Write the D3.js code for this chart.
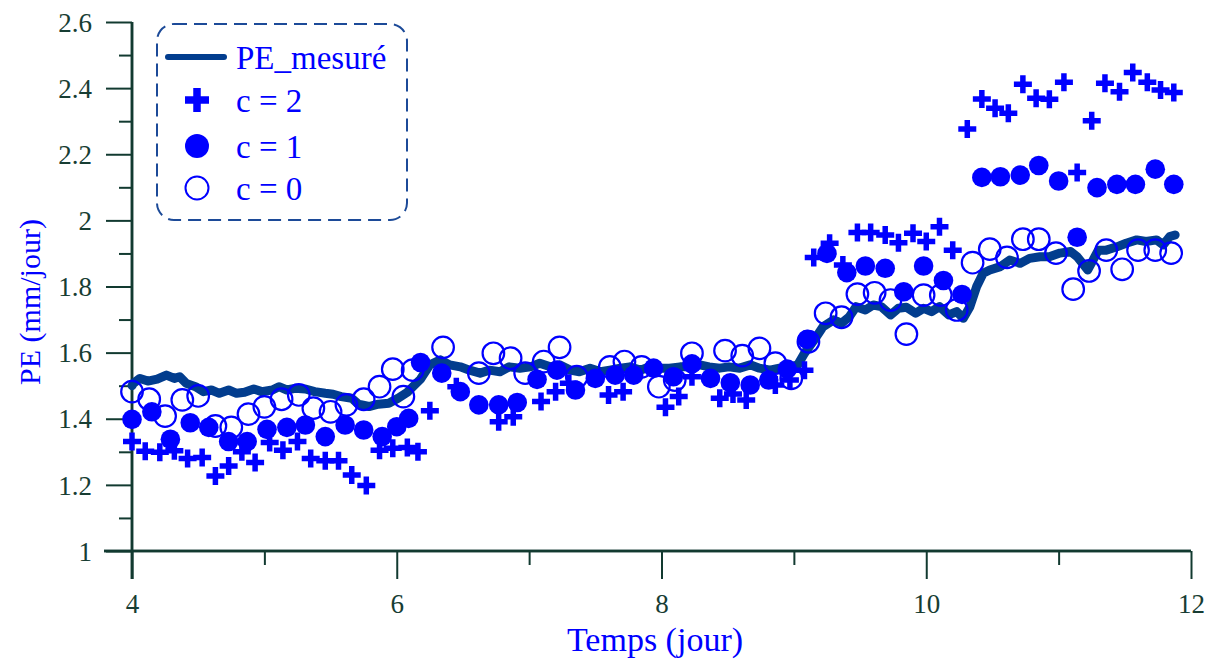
<!DOCTYPE html>
<html>
<head>
<meta charset="utf-8">
<script src="https://cdn.jsdelivr.net/npm/d3@7/dist/d3.min.js"></script>
<style>
  html, body { margin: 0; padding: 0; background: #fff; }
  svg { display: block; }
  text { font-family: "Liberation Serif", "Times New Roman", serif; }
</style>
</head>
<body>
<svg id="chart" width="1214" height="659"></svg>
<script>
// Measured evapotranspiration PE (mm/jour) over time (jour)
const mesureT = [4.00,4.01,4.06,4.12,4.19,4.26,4.32,4.36,4.41,4.48,4.54,4.60,4.66,4.73,4.79,4.85,4.92,4.98,5.06,5.11,5.17,5.23,5.31,5.38,5.46,5.52,5.58,5.66,5.71,5.79,5.86,5.94,6.01,6.08,6.13,6.18,6.25,6.33,6.40,6.48,6.55,6.63,6.70,6.78,6.85,6.93,7.01,7.08,7.16,7.23,7.31,7.38,7.46,7.54,7.61,7.69,7.76,7.84,7.91,7.99,8.06,8.14,8.21,8.29,8.36,8.44,8.51,8.59,8.67,8.74,8.82,8.89,8.97,9.03,9.08,9.17,9.22,9.30,9.36,9.42,9.47,9.54,9.60,9.66,9.73,9.79,9.85,9.92,9.98,10.04,10.10,10.17,10.23,10.28,10.33,10.38,10.43,10.48,10.56,10.63,10.71,10.78,10.86,10.93,11.01,11.09,11.14,11.19,11.22,11.26,11.30,11.36,11.44,11.51,11.59,11.66,11.74,11.79,11.84,11.88];
const mesureV = [1.500,1.507,1.522,1.514,1.520,1.532,1.522,1.527,1.507,1.497,1.482,1.487,1.477,1.487,1.477,1.480,1.490,1.482,1.487,1.497,1.487,1.492,1.490,1.482,1.477,1.474,1.467,1.462,1.444,1.437,1.444,1.447,1.462,1.480,1.500,1.520,1.563,1.578,1.563,1.557,1.547,1.538,1.547,1.542,1.557,1.553,1.557,1.568,1.557,1.563,1.547,1.542,1.553,1.542,1.547,1.553,1.557,1.547,1.557,1.553,1.553,1.557,1.557,1.563,1.557,1.553,1.557,1.553,1.563,1.553,1.547,1.553,1.557,1.563,1.598,1.648,1.678,1.699,1.689,1.709,1.739,1.729,1.744,1.739,1.714,1.734,1.737,1.719,1.734,1.724,1.739,1.714,1.724,1.704,1.739,1.799,1.840,1.850,1.860,1.880,1.870,1.885,1.890,1.890,1.901,1.906,1.890,1.865,1.850,1.880,1.910,1.910,1.920,1.931,1.941,1.936,1.941,1.926,1.951,1.956];

// Computed PE, c = 2
const c2T = [4.00,4.10,4.21,4.32,4.42,4.53,4.63,4.73,4.83,4.93,5.04,5.14,5.25,5.35,5.46,5.56,5.66,5.77,5.87,5.97,6.08,6.16,6.25,6.45,6.77,6.88,7.09,7.20,7.30,7.60,7.71,8.03,8.13,8.23,8.44,8.54,8.64,8.86,8.97,9.08,9.15,9.27,9.37,9.48,9.58,9.69,9.79,9.90,10.00,10.10,10.20,10.31,10.42,10.52,10.62,10.73,10.83,10.93,11.04,11.14,11.25,11.35,11.46,11.56,11.67,11.77,11.87];
const c2V = [1.331,1.302,1.299,1.303,1.280,1.283,1.227,1.257,1.300,1.268,1.328,1.305,1.331,1.280,1.273,1.273,1.230,1.198,1.305,1.311,1.313,1.300,1.424,1.497,1.391,1.406,1.452,1.482,1.507,1.472,1.482,1.435,1.467,1.527,1.462,1.475,1.457,1.502,1.517,1.547,1.888,1.931,1.865,1.963,1.963,1.956,1.932,1.961,1.936,1.981,1.910,2.276,2.367,2.339,2.324,2.412,2.369,2.366,2.418,2.145,2.301,2.415,2.389,2.447,2.418,2.394,2.387];

// Computed PE, c = 1
const c1T = [4.00,4.15,4.29,4.44,4.58,4.73,4.87,5.02,5.17,5.31,5.46,5.61,5.75,5.89,6.00,6.09,6.18,6.34,6.48,6.62,6.77,6.91,7.06,7.21,7.35,7.50,7.65,7.79,7.94,8.09,8.23,8.37,8.52,8.67,8.81,8.95,9.10,9.25,9.40,9.54,9.69,9.83,9.98,10.13,10.27,10.42,10.56,10.71,10.85,11.00,11.14,11.29,11.44,11.58,11.73,11.87];
const c1V = [1.398,1.421,1.338,1.388,1.374,1.331,1.331,1.368,1.374,1.381,1.346,1.381,1.366,1.346,1.376,1.401,1.570,1.538,1.482,1.442,1.442,1.449,1.519,1.547,1.487,1.522,1.532,1.532,1.553,1.527,1.566,1.522,1.509,1.502,1.517,1.550,1.640,1.900,1.842,1.862,1.855,1.784,1.862,1.818,1.776,2.130,2.132,2.137,2.166,2.119,1.949,2.099,2.109,2.109,2.155,2.109];

// Computed PE, c = 0
const c0T = [4.00,4.13,4.25,4.38,4.50,4.63,4.75,4.88,5.00,5.13,5.26,5.37,5.50,5.62,5.75,5.87,5.97,6.05,6.12,6.35,6.62,6.73,6.86,6.97,7.11,7.23,7.36,7.61,7.72,7.85,7.98,8.10,8.23,8.48,8.61,8.74,8.86,8.98,9.11,9.24,9.36,9.48,9.61,9.73,9.85,9.98,10.11,10.23,10.35,10.48,10.61,10.73,10.85,10.98,11.11,11.23,11.36,11.48,11.60,11.73,11.85];
const c0V = [1.482,1.459,1.408,1.457,1.469,1.378,1.374,1.414,1.436,1.459,1.472,1.432,1.421,1.442,1.459,1.497,1.550,1.467,1.547,1.616,1.538,1.598,1.583,1.538,1.573,1.616,1.527,1.557,1.573,1.557,1.497,1.517,1.598,1.606,1.591,1.613,1.568,1.522,1.633,1.719,1.707,1.777,1.781,1.759,1.656,1.774,1.774,1.729,1.872,1.913,1.888,1.943,1.943,1.901,1.792,1.847,1.910,1.852,1.910,1.910,1.901];

const xMajor = [4, 6, 8, 10, 12];
const xMinor = [5, 7, 9, 11];
const yMajor = [1, 1.2, 1.4, 1.6, 1.8, 2, 2.2, 2.4, 2.6];
const yMinor = [1.1, 1.3, 1.5, 1.7, 1.9, 2.1, 2.3, 2.5];
const legendLabels = ["PE_mesuré", "c = 2", "c = 1", "c = 0"];

const AXIS = "#123a30";
const TICKTXT = "#173d33";
const BLUE = "#0000ff";
const LINE = "#023d8e";

const svg = d3.select("#chart");
const x = d3.scaleLinear().domain([4, 12]).range([132, 1191]);
const y = d3.scaleLinear().domain([1, 2.6]).range([551, 22]);

const zip = (a, b) => a.map((t, i) => [t, b[i]]);

// ---- axes ----
const xAxisMajor = d3.axisBottom(x).tickValues(xMajor).tickSize(28).tickPadding(15).tickFormat(d3.format("d"));
const xAxisMinor = d3.axisBottom(x).tickValues(xMinor).tickSize(14).tickFormat("");
const yAxisMajor = d3.axisLeft(y).tickValues(yMajor).tickSize(26).tickPadding(14).tickFormat(d => String(+d.toFixed(1)));
const yAxisMinor = d3.axisLeft(y).tickValues(yMinor).tickSize(13).tickFormat("");

function styleAxis(g) {
  g.select(".domain").attr("stroke", AXIS).attr("stroke-width", 2.5);
  g.selectAll(".tick line").attr("stroke", AXIS).attr("stroke-width", 2);
  g.selectAll(".tick text").attr("fill", TICKTXT)
    .style("font-family", '"Liberation Serif", "Times New Roman", serif')
    .style("font-size", "27px");
}

const gx = svg.append("g").attr("transform", "translate(0,551)");
gx.append("g").call(xAxisMinor).call(styleAxis);
gx.append("g").call(xAxisMajor).call(styleAxis);
gx.selectAll(".domain").attr("d", `M${x(4) - 28},0H${x(12)}`);

const gy = svg.append("g").attr("transform", "translate(132,0)");
gy.append("g").call(yAxisMinor).call(styleAxis);
gy.append("g").call(yAxisMajor).call(styleAxis);
gy.selectAll(".domain").attr("d", `M0,${y(2.6)}V${y(1) + 28}`);
gy.selectAll(".tick text").attr("dy", "0.34em");

// ---- axis titles ----
svg.append("text")
  .attr("x", 655).attr("y", 651)
  .attr("text-anchor", "middle")
  .attr("fill", BLUE)
  .style("font-size", "34px")
  .text("Temps (jour)");

svg.append("text")
  .attr("transform", "translate(40,302) rotate(-90)")
  .attr("text-anchor", "middle")
  .attr("fill", BLUE)
  .style("font-size", "30px")
  .text("PE (mm/jour)");

// ---- measured line ----
const line = d3.line().x(d => x(d[0])).y(d => y(d[1]));
svg.append("path")
  .datum(zip(mesureT, mesureV))
  .attr("d", line)
  .attr("fill", "none")
  .attr("stroke", LINE)
  .attr("stroke-width", 9)
  .attr("stroke-linejoin", "round")
  .attr("stroke-linecap", "round");

// ---- markers ----
function plusPath(s, w) {
  const a = s / 2, b = w / 2;
  return `M${-b},${-a}H${b}V${-b}H${a}V${b}H${b}V${a}H${-b}V${b}H${-a}V${-b}H${-b}Z`;
}

svg.append("g").selectAll("path")
  .data(zip(c2T, c2V))
  .join("path")
  .attr("transform", d => `translate(${x(d[0])},${y(d[1])})`)
  .attr("d", plusPath(18, 5.5))
  .attr("fill", BLUE);

svg.append("g").selectAll("circle")
  .data(zip(c1T, c1V))
  .join("circle")
  .attr("cx", d => x(d[0])).attr("cy", d => y(d[1]))
  .attr("r", 9.8)
  .attr("fill", BLUE);

svg.append("g").selectAll("circle")
  .data(zip(c0T, c0V))
  .join("circle")
  .attr("cx", d => x(d[0])).attr("cy", d => y(d[1]))
  .attr("r", 10.8)
  .attr("fill", "none")
  .attr("stroke", BLUE)
  .attr("stroke-width", 2.2);

// ---- legend ----
const lg = svg.append("g");
lg.append("rect")
  .attr("x", 157).attr("y", 24).attr("width", 250).attr("height", 196)
  .attr("rx", 17)
  .attr("fill", "#fff")
  .attr("stroke", "#1c4a98")
  .attr("stroke-width", 2)
  .attr("stroke-dasharray", "13,7");

const rowY = [57, 100, 146, 188];
lg.append("line")
  .attr("x1", 168).attr("x2", 224).attr("y1", rowY[0]).attr("y2", rowY[0])
  .attr("stroke", LINE).attr("stroke-width", 6).attr("stroke-linecap", "round");
lg.append("path")
  .attr("transform", `translate(197,${rowY[1]})`)
  .attr("d", plusPath(24, 7.5))
  .attr("fill", BLUE);
lg.append("circle").attr("cx", 197).attr("cy", rowY[2]).attr("r", 12).attr("fill", BLUE);
lg.append("circle").attr("cx", 197).attr("cy", rowY[3]).attr("r", 11.5)
  .attr("fill", "none").attr("stroke", BLUE).attr("stroke-width", 2);

lg.selectAll("text.lab")
  .data(legendLabels)
  .join("text")
  .attr("class", "lab")
  .attr("x", 236)
  .attr("y", (d, i) => rowY[i])
  .attr("dy", "0.35em")
  .attr("fill", BLUE)
  .style("font-size", "33px")
  .text(d => d);
</script>
</body>
</html>
